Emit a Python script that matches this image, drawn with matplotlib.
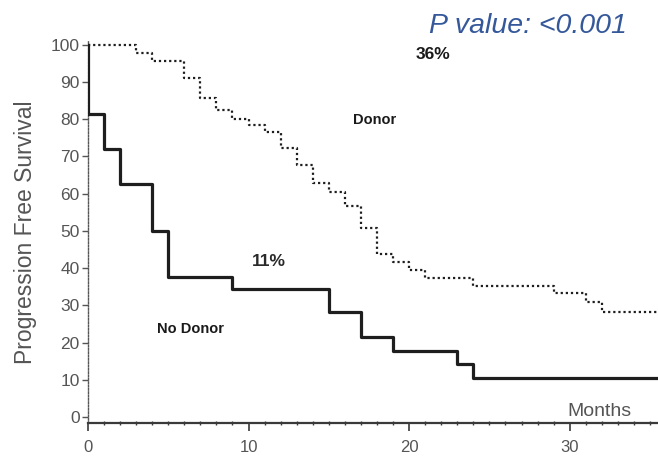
import matplotlib
matplotlib.use("Agg")
import matplotlib.pyplot as plt
from matplotlib.ticker import MultipleLocator

plt.rcParams['font.family'] = ['Liberation Sans', 'DejaVu Sans']

# Kaplan-Meier progression-free survival (%), step values after each event
donor_months = [0, 3, 4, 6, 7, 8, 9, 10, 11, 12, 13, 14, 15, 16, 17, 18, 19, 20, 21, 24, 29, 31, 32]
donor_pfs = [100, 97.8, 95.6, 91.1, 85.8, 82.5, 80.0, 78.3, 76.5, 72.3, 67.6, 62.8, 60.4,
             56.6, 50.8, 43.8, 41.6, 39.4, 37.3, 35.2, 33.3, 31.0, 28.3]

no_donor_months = [0, 0, 1, 2, 4, 5, 9, 15, 17, 19, 23, 24]
no_donor_pfs = [100, 81.3, 71.9, 62.5, 50.0, 37.5, 34.4, 28.1, 21.5, 17.7, 14.2, 10.6]

follow_up_end = 36

x_ticks = [0, 10, 20, 30]
y_ticks = [0, 10, 20, 30, 40, 50, 60, 70, 80, 90, 100]

fig = plt.figure(figsize=(6.58, 4.57), dpi=100)
ax = fig.add_axes([0.1337, 0.0744, 0.8663, 0.836])

# Donor arm: dotted step curve
ax.plot(donor_months + [follow_up_end], donor_pfs + [donor_pfs[-1]],
        drawstyle='steps-post', color='#1e1e1e', lw=1.6,
        linestyle=(0, (1.0, 1.3)), zorder=3)

# No-donor arm: solid step curve
ax.plot(no_donor_months + [follow_up_end], no_donor_pfs + [no_donor_pfs[-1]],
        drawstyle='steps-post', color='#1e1e1e', lw=2.3, zorder=4)

ax.set_xlim(0, 35.5)
ax.set_ylim(-1.6, 101)

for side in ('top', 'right'):
    ax.spines[side].set_visible(False)
ax.spines['bottom'].set_color('#3a3a3a')
ax.spines['bottom'].set_linewidth(1.6)
ax.spines['left'].set_color('#555555')
ax.spines['left'].set_linewidth(1.0)
ax.spines['left'].set_linestyle((0, (1.2, 1.2)))

ax.set_xticks(x_ticks)
ax.set_yticks(y_ticks)
ax.xaxis.set_minor_locator(MultipleLocator(1))
ax.tick_params(axis='x', which='major', length=6, width=1.2, color='#3a3a3a',
               labelsize=12, labelcolor='#555555', pad=6)
ax.tick_params(axis='x', which='minor', length=3, width=1.0, color='#3a3a3a',
               direction='inout')
ax.tick_params(axis='y', which='major', length=4, width=1.0, color='#555555',
               labelsize=12.5, labelcolor='#555555', pad=2)

ax.set_ylabel('Progression Free Survival', fontsize=16.5, color='#555555', labelpad=10)

ax.text(33.85, 0.4, 'Months', ha='right', va='baseline',
        fontsize=14, color='#555555')

fig.text(0.953, 0.944, 'P value: <0.001', ha='right', va='center', fontsize=20.5,
         style='italic', color='#35589a')

ax.text(21.47, 97.3, '36%', ha='center', va='center', fontsize=12.5,
        fontweight='bold', color='#1a1a1a')
ax.text(17.83, 79.7, 'Donor', ha='center', va='center', fontsize=10.5,
        fontweight='bold', color='#1a1a1a')
ax.text(11.26, 41.9, '11%', ha='center', va='center', fontsize=12.5,
        fontweight='bold', color='#2a2a2a')
ax.text(6.41, 23.7, 'No Donor', ha='center', va='center', fontsize=10.5,
        fontweight='bold', color='#1a1a1a')

fig.savefig('out.png', dpi=100, facecolor='white')
